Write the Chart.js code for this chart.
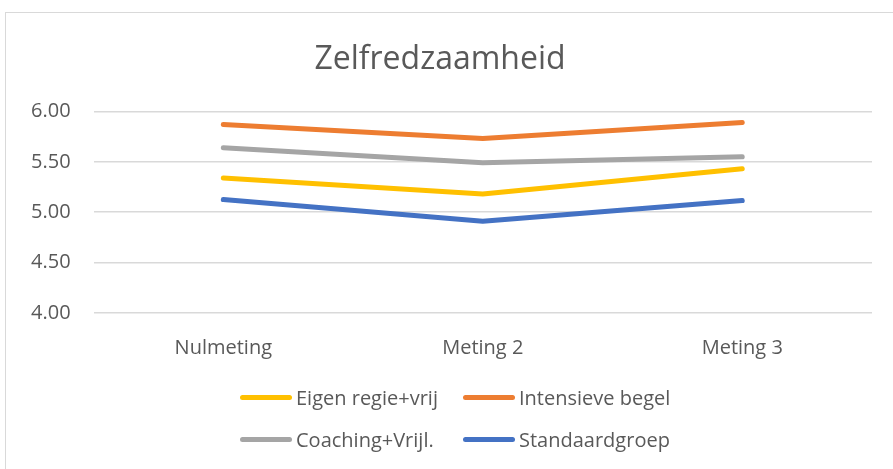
<!DOCTYPE html>
<html>
<head>
<meta charset="utf-8">
<script src="https://cdn.jsdelivr.net/npm/chart.js@4/dist/chart.umd.min.js"></script>
<style>
    html, body { margin: 0; padding: 0; background: #fff; }
    #wrap { position: relative; width: 893px; height: 469px; overflow: hidden; }
    #frame { position: absolute; left: 5px; top: 12px; width: 900px; height: 500px; border: 1px solid #d9d9d9; box-sizing: border-box; }
    #chart { position: absolute; left: 0; top: 0; }
    #legend {
        position: absolute; left: 240px; top: 384px;
        display: grid; grid-template-columns: 223px auto; row-gap: 15px;
        font-family: 'Open Sans', sans-serif; font-size: 20px; color: #595959;
    }
    .item { display: flex; align-items: center; height: 27px; white-space: nowrap; }
    .swatch { width: 52px; height: 5px; border-radius: 3px; margin-right: 4px; }
</style>
</head>
<body>
<div id="wrap">
    <div id="frame"></div>
    <canvas id="chart" width="893" height="469"></canvas>
    <div id="legend"></div>
</div>
<script>
const categories = ['Nulmeting', 'Meting 2', 'Meting 3'];
const seriesNames = ['Eigen regie+vrij', 'Intensieve begel', 'Coaching+Vrijl.', 'Standaardgroep'];
const eigenRegie = [5.34, 5.18, 5.43];
const intensieve = [5.87, 5.73, 5.89];
const coaching = [5.64, 5.49, 5.55];
const standaard = [5.125, 4.91, 5.115];
const yTicks = [4.0, 4.5, 5.0, 5.5, 6.0];
const colors = ['#FFC000', '#ED7D31', '#A5A5A5', '#4472C4'];

const textColor = '#595959';
const font = "'Open Sans', sans-serif";

function makeDataset(i, data) {
    return {
        label: seriesNames[i],
        data: data,
        borderColor: colors[i],
        backgroundColor: colors[i],
        borderWidth: 5,
        pointRadius: 0,
        borderCapStyle: 'round',
        borderJoinStyle: 'round',
        tension: 0,
        order: i,
    };
}

const datasets = [
    makeDataset(0, eigenRegie),
    makeDataset(1, intensieve),
    makeDataset(2, coaching),
    makeDataset(3, standaard),
];

const chart = new Chart(document.getElementById('chart'), {
    type: 'line',
    data: { labels: categories, datasets: datasets },
    options: {
        responsive: false,
        animation: false,
        layout: { padding: { left: 8, right: 21, top: 12, bottom: 94 } },
        plugins: {
            legend: { display: false },
            tooltip: { enabled: false },
            title: {
                display: true,
                text: 'Zelfredzaamheid',
                color: textColor,
                font: { family: font, size: 32, weight: 'normal' },
                padding: { top: 29, bottom: 32 },
            },
        },
        scales: {
            x: {
                offset: true,
                grid: { display: false },
                border: { display: false },
                ticks: { color: textColor, font: { family: font, size: 20 }, padding: 15 },
            },
            y: {
                min: yTicks[0],
                max: yTicks[yTicks.length - 1],
                afterBuildTicks: (axis) => { axis.ticks = yTicks.map(v => ({ value: v })); },
                grid: { color: '#d9d9d9', lineWidth: 1.5, drawTicks: false },
                border: { display: false },
                ticks: {
                    color: textColor,
                    font: { family: font, size: 20 },
                    padding: 23,
                    callback: (v) => Number(v).toFixed(2),
                },
            },
        },
    },
});

const legendEl = document.getElementById('legend');
chart.data.datasets.forEach((ds) => {
    const item = document.createElement('div');
    item.className = 'item';
    const sw = document.createElement('span');
    sw.className = 'swatch';
    sw.style.background = ds.borderColor;
    const label = document.createElement('span');
    label.textContent = ds.label;
    item.appendChild(sw);
    item.appendChild(label);
    legendEl.appendChild(item);
});
</script>
</body>
</html>
